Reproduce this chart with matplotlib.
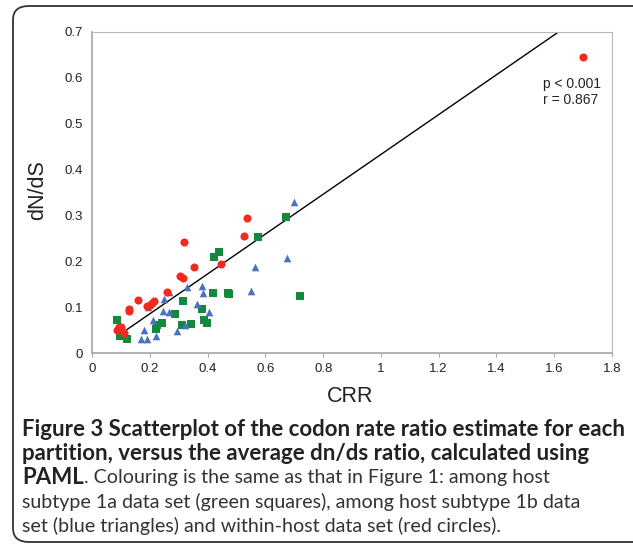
import matplotlib
matplotlib.use("Agg")
import numpy as np
import matplotlib.pyplot as plt
from matplotlib.patches import FancyBboxPatch

# among host subtype 1a (green squares)
green_x = [0.085, 0.096, 0.121, 0.221, 0.225, 0.242, 0.288, 0.315, 0.311, 0.343,
           0.380, 0.387, 0.398, 0.417, 0.470, 0.475, 0.422, 0.439, 0.573, 0.671, 0.719]
green_y = [0.073, 0.036, 0.031, 0.053, 0.060, 0.066, 0.085, 0.113, 0.060, 0.064,
           0.095, 0.071, 0.066, 0.131, 0.131, 0.129, 0.209, 0.220, 0.253, 0.297, 0.124]

# among host subtype 1b (blue triangles)
blue_x = [0.168, 0.188, 0.179, 0.221, 0.211, 0.193, 0.246, 0.265, 0.248, 0.265, 0.295,
          0.320, 0.327, 0.362, 0.381, 0.382, 0.404, 0.551, 0.565, 0.676, 0.698]
blue_y = [0.031, 0.031, 0.050, 0.036, 0.073, 0.100, 0.092, 0.089, 0.117, 0.133, 0.047,
          0.060, 0.143, 0.107, 0.147, 0.131, 0.089, 0.135, 0.188, 0.208, 0.330]

# within-host (red circles)
red_x = [0.087, 0.094, 0.101, 0.110, 0.126, 0.128, 0.158, 0.188, 0.200, 0.206, 0.214,
         0.258, 0.304, 0.313, 0.318, 0.351, 0.445, 0.526, 0.537, 1.699]
red_y = [0.050, 0.056, 0.057, 0.044, 0.091, 0.097, 0.116, 0.102, 0.105, 0.108, 0.114,
         0.133, 0.168, 0.163, 0.242, 0.188, 0.194, 0.255, 0.294, 0.646]

# trend line
slope = 0.434
intercept = -0.001

x_ticks = [0, 0.2, 0.4, 0.6, 0.8, 1, 1.2, 1.4, 1.6, 1.8]
x_labels = ["0", "0.2", "0.4", "0.6", "0.8", "1", "1.2", "1.4", "1.6", "1.8"]
y_ticks = [0, 0.1, 0.2, 0.3, 0.4, 0.5, 0.6, 0.7]
y_labels = ["0", "0.1", "0.2", "0.3", "0.4", "0.5", "0.6", "0.7"]

W, H = 633, 554
fig = plt.figure(figsize=(W / 100, H / 100), dpi=100)

# rounded frame round the whole figure
frame = FancyBboxPatch((13 / W, 12 / H), (W + 20 - 13) / W, (H - 6 - 12) / H,
                       boxstyle="round,pad=0,rounding_size=0.025",
                       transform=fig.transFigure, fill=False,
                       edgecolor="#333333", linewidth=1.3, clip_on=False)
fig.patches.append(frame)

x0, x1 = 92.3, 611.8
y_top, y_bot = 32, 353
ax = fig.add_axes([x0 / W, (H - y_bot) / H, (x1 - x0) / W, (y_bot - y_top) / H])

ax.scatter(green_x, green_y, marker="s", s=26, color="#13893c", linewidths=0, zorder=3)
ax.scatter(blue_x, blue_y, marker="^", s=30, color="#4a72c0", linewidths=0, zorder=3)
ax.scatter(red_x, red_y, marker="o", s=34, color="#f32a1e", linewidths=0, zorder=3)

lx = np.array([min(red_x + green_x), max(red_x)])
ax.plot(lx, slope * lx + intercept, color="black", linewidth=1.0, zorder=2)

ax.set_xlim(0, 1.8)
ax.set_ylim(0, 0.7)
ax.set_xticks(x_ticks)
ax.set_xticklabels(x_labels)
ax.set_yticks(y_ticks)
ax.set_yticklabels(y_labels)

tick_font = "Liberation Sans"
for lab in ax.get_xticklabels() + ax.get_yticklabels():
    lab.set_fontfamily(tick_font)
    lab.set_fontsize(9.5)
    lab.set_color("#222222")

for s in ["left", "bottom"]:
    ax.spines[s].set_color("#a6a6a6")
    ax.spines[s].set_linewidth(1.2)
for s in ["top", "right"]:
    ax.spines[s].set_color("#b8b8b8")
    ax.spines[s].set_linewidth(0.8)
ax.tick_params(axis="x", direction="out", length=3, color="#a6a6a6", pad=4)
ax.tick_params(axis="y", length=0, pad=7)

fig.text(38 / W, 1 - 190 / H, "dN/dS", rotation=90, ha="center", va="center",
         fontsize=15.5, family=tick_font, color="#222222")
fig.text(350 / W, 1 - 397 / H, "CRR", ha="center", va="center",
         fontsize=15.5, family=tick_font, color="#222222")

fig.text(543 / W, 1 - 92 / H, "p < 0.001\nr = 0.867", fontsize=10, family=tick_font,
         ha="left", va="center", linespacing=1.1, color="#222222")

# caption; bold and plain sizes fitted to the widths of their lines
cap_font = "Lato"
cap_x = 22 / W
rows = [430, 454, 478, 502, 526]
bold_lines = ["Figure 3 Scatterplot of the codon rate ratio estimate for each",
              "partition, versus the average dn/ds ratio, calculated using"]
plain_lines = ["subtype 1a data set (green squares), among host subtype 1b data",
               "set (blue triangles) and within-host data set (red circles)."]


def fit_size(text, target, **kw):
    probe = fig.text(0, 0, text, fontsize=12, family=cap_font, **kw)
    fig.canvas.draw()
    w = probe.get_window_extent().width
    probe.remove()
    return 12 * target / w


bold_size = fit_size(bold_lines[0], 598, weight="bold")
plain_size = fit_size(plain_lines[0], 558)

for txt, yy in zip(bold_lines, rows[:2]):
    fig.text(cap_x, 1 - yy / H, txt, fontsize=bold_size, family=cap_font,
             weight="bold", ha="left", va="center", color="#222222")

t = fig.text(cap_x, 1 - rows[2] / H, "PAML", fontsize=bold_size, family=cap_font,
             weight="bold", ha="left", va="center", color="#222222")
fig.canvas.draw()
bb = t.get_window_extent()
fig.text(bb.x1 / W, 1 - rows[2] / H, ". Colouring is the same as that in Figure 1: among host",
         fontsize=plain_size, family=cap_font, ha="left", va="center", color="#333333")
for txt, yy in zip(plain_lines, rows[3:]):
    fig.text(cap_x, 1 - yy / H, txt, fontsize=plain_size, family=cap_font,
             ha="left", va="center", color="#333333")

fig.savefig("out.png", dpi=100)
